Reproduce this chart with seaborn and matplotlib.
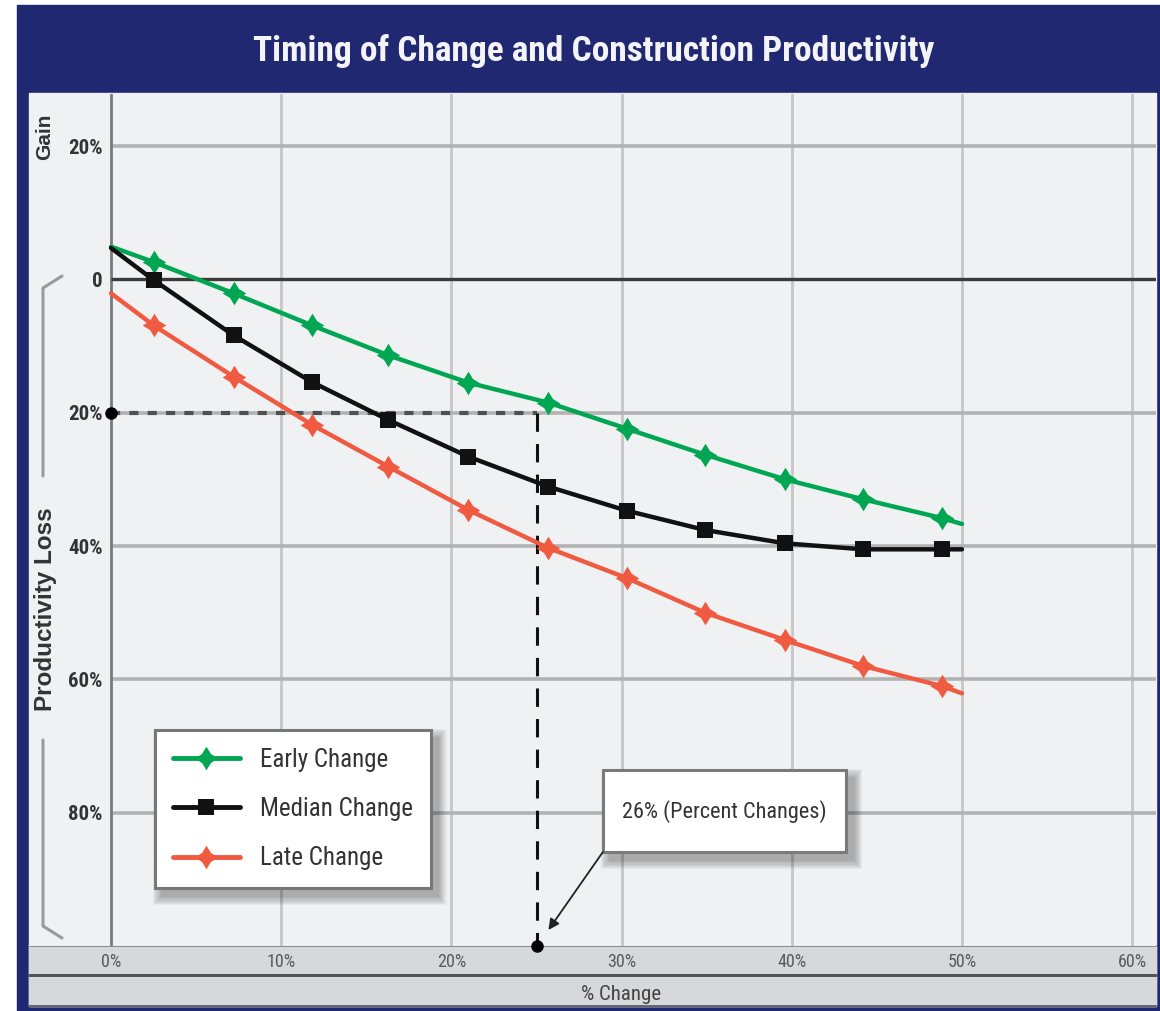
import numpy as np
import pandas as pd
import seaborn as sns
import matplotlib
matplotlib.use("Agg")
import matplotlib.pyplot as plt
from matplotlib.lines import Line2D
from matplotlib.patches import Rectangle
from matplotlib.path import Path
from matplotlib import font_manager as fm

# ---------------- data ----------------
x_change = [0, 2.5, 7.2, 11.8, 16.3, 21.0, 25.7, 30.3, 34.9, 39.6, 44.2, 48.8, 50]
early = [4.9, 2.6, -2.1, -6.9, -11.4, -15.5, -18.5, -22.4, -26.3, -30.0, -33.0, -35.8, -36.7]
median = [4.7, -0.1, -8.4, -15.4, -21.1, -26.6, -31.1, -34.7, -37.6, -39.6, -40.5, -40.5, -40.5]
late = [-2.1, -6.9, -14.6, -21.8, -28.1, -34.6, -40.3, -44.8, -50.0, -54.1, -58.0, -61.0, -62.1]
series_names = ["Early Change", "Median Change", "Late Change"]

x_ticks = [0, 10, 20, 30, 40, 50, 60]
x_tick_labels = ["0%", "10%", "20%", "30%", "40%", "50%", "60%"]
y_ticks = [20, 0, -20, -40, -60, -80]
y_tick_labels = ["20%", "0", "20%", "40%", "60%", "80%"]

ref_x = 25
ref_y = -20
ref_label = "26% (Percent Changes)"
title = "Timing of Change and Construction Productivity"
x_label = "% Change"

# ---------------- style ----------------
sns.set_theme(style="white")
names = {f.name for f in fm.fontManager.ttflist}
narrow = next((n for n in ["Liberation Sans Narrow", "Roboto Condensed", "DejaVu Sans Condensed"] if n in names), None)
NARROW = [narrow, "DejaVu Sans"] if narrow else ["DejaVu Sans"]
REG = ["Liberation Sans", "DejaVu Sans"]
plt.rcParams["font.family"] = REG

W, H = 1160, 1011
fig = plt.figure(figsize=(W / 100, H / 100), dpi=100, facecolor="white")

def fx(px):
    return px / W

def fy(py):
    return 1 - py / H

NAVY = "#1f2870"
# outer frame
fig.add_artist(Rectangle((fx(17), fy(1011)), fx(1160) - fx(17), fy(5) - fy(1011),
                         transform=fig.transFigure, color=NAVY, zorder=-10))
fig.add_artist(Rectangle((fx(29), fy(1006)), fx(1156) - fx(29), fy(93) - fy(1006),
                         transform=fig.transFigure, color="#f0f1f2", zorder=-9))
# bottom band
fig.add_artist(Rectangle((fx(29), fy(1006)), fx(1156) - fx(29), fy(946) - fy(1006),
                         transform=fig.transFigure, color="#d7d8da", zorder=-8))
for yy, col, lw in [(946, "#8c8c8c", 2.0), (975, "#555555", 3.0), (1006, "#666666", 2.0)]:
    fig.add_artist(Line2D([fx(29), fx(1156)], [fy(yy), fy(yy)], transform=fig.transFigure,
                          color=col, lw=lw * 0.72, zorder=-7))

fig.text(fx(594), fy(51), title, color="#f4f4f8", fontsize=25.5, fontweight="bold",
         family=NARROW, ha="center", va="center")

ax = fig.add_axes([fx(29), fy(946), fx(1156) - fx(29), fy(94) - fy(946)])
ax.set_facecolor("#f0f1f2")
ax.set_xlim(-4.82, 61.4)
ax.set_ylim(-100, 27.8)
for s in ax.spines.values():
    s.set_visible(False)

def soft_shadow(x0, y0, x1, y1, dx=7, dy=8, steps=8, spread=9, z=6.5):
    """Blurred drop shadow for a pixel box (top-left origin), drawn inside the axes."""
    inv = ax.transAxes.inverted()
    for i in range(steps):
        g = spread * (1 - i / steps)
        a = inv.transform((x0 + dx - g, H - (y1 + dy + g)))
        b = inv.transform((x1 + dx + g, H - (y0 + dy - g)))
        ax.add_patch(Rectangle(tuple(a), b[0] - a[0], b[1] - a[1], transform=ax.transAxes,
                               facecolor="black", edgecolor="none", alpha=0.04, zorder=z, clip_on=False))

# grid
for xv in x_ticks[1:]:
    ax.axvline(xv, color="#c6c6c6", lw=2.0, zorder=1)
ax.axvline(0, color="#7a7a7a", lw=2.0, zorder=2)
for yv in y_ticks:
    if yv == 0:
        ax.hlines(yv, 0, 61.4, color="#3a3a3a", lw=2.4, zorder=2)
    else:
        ax.hlines(yv, 0, 61.4, color="#b2b2b2", lw=2.6, zorder=1)

ax.set_xticks(x_ticks)
ax.set_xticklabels(x_tick_labels, family=NARROW, fontsize=13, color="#5a5a5a")
ax.set_yticks(y_ticks)
ax.set_yticklabels(y_tick_labels, family=NARROW, fontsize=15, fontweight="bold", color="#333333")
ax.tick_params(axis="x", length=0, pad=5)
ax.tick_params(axis="y", length=0, pad=-53)

# reference dashed lines
ax.plot([0, ref_x], [ref_y, ref_y], ls=(0, (2.2, 2.2)), color="#505050", lw=3, zorder=3)
ax.plot([ref_x, ref_x], [ref_y, -100], ls=(0, (6, 4)), color="#111111", lw=2.2, zorder=3)
ax.plot([0, ref_x], [ref_y, -100], ls="none", marker="o", color="black", ms=8, zorder=6, clip_on=False)

# marker shapes
k = 0.38
star = Path([(0, 1), (k, k), (1, 0), (k, -k), (0, -1), (-k, -k), (-1, 0), (-k, k), (0, 1)],
            [Path.MOVETO] + [Path.LINETO] * 7 + [Path.CLOSEPOLY])

GREEN = "#00a651"
BLACK = "#111111"
RED = "#f05a40"

df = pd.DataFrame({"x": x_change, "Early Change": early, "Median Change": median, "Late Change": late})
styles = {
    "Early Change": dict(color=GREEN, marker=star, ms=17),
    "Median Change": dict(color=BLACK, marker="s", ms=11),
    "Late Change": dict(color=RED, marker=star, ms=17),
}
for name in series_names:
    st = styles[name]
    sns.lineplot(data=df, x="x", y=name, ax=ax, color=st["color"], lw=3.2, marker=st["marker"],
                 markersize=st["ms"], markeredgewidth=0, markevery=slice(1, -1), zorder=5, legend=False)
ax.set_xlabel("")
ax.set_ylabel("")

handles = [Line2D([], [], color=styles[n]["color"], lw=3.5, marker=styles[n]["marker"],
                  markersize=styles[n]["ms"], markeredgewidth=0) for n in series_names]
leg = ax.legend(handles, series_names, loc="upper left", bbox_to_anchor=(fx(155), fy(730)),
                bbox_transform=fig.transFigure, frameon=True, fancybox=False, facecolor="white",
                edgecolor="#777777", framealpha=1, prop={"family": NARROW, "size": 18},
                handlelength=2.7, handletextpad=0.8, labelspacing=1.02, borderpad=0.7,
                borderaxespad=0, shadow=False)
leg.get_frame().set_linewidth(2.2)
for t in leg.get_texts():
    t.set_color("#333333")
leg.set_zorder(7)

# soft shadow behind legend (measured after layout)
fig.canvas.draw()
bb = leg.get_window_extent()
soft_shadow(bb.x0, H - bb.y1, bb.x1, H - bb.y0)

# annotation box
bx0, bx1, by0, by1 = 28.9, 43.2, -73.6, -85.9
box = Rectangle((bx0, by1), bx1 - bx0, by0 - by1, facecolor="white", edgecolor="#7a7a7a",
                lw=2.2, zorder=7)
ax.add_patch(box)
p0 = ax.transData.transform((bx0, by0))
p1 = ax.transData.transform((bx1, by1))
soft_shadow(p0[0], H - p0[1], p1[0], H - p1[1])
ax.text(36.05, -79.8, ref_label, family=NARROW, fontsize=16, color="#333333", ha="center", va="center", zorder=8)
ax.annotate("", xy=(25.7, -97.6), xytext=(28.9, -85.9),
            arrowprops=dict(arrowstyle="-|>", color="#222222", lw=1.3, mutation_scale=16,
                            shrinkA=0, shrinkB=0), zorder=8)

# axis titles
fig.text(fx(621), fy(994), x_label, family=NARROW, fontsize=15, color="#444444", ha="center", va="center")
fig.text(fx(45), fy(137), "Gain", rotation=90, fontsize=15, fontweight="bold", color="#333333",
         ha="center", va="center")
fig.text(fx(46), fy(609), "Productivity Loss", rotation=90, fontsize=17.5, fontweight="bold", color="#333333",
         ha="center", va="center")
# bracket
BR = "#9a9a9a"
for xs, ys in [([62, 43, 43], [276, 288, 476]), ([43, 43, 62], [740, 926, 938])]:
    fig.add_artist(Line2D([fx(v) for v in xs], [fy(v) for v in ys], transform=fig.transFigure,
                          color=BR, lw=2.2, zorder=10))

fig.savefig("out.png", dpi=100, facecolor="white")
